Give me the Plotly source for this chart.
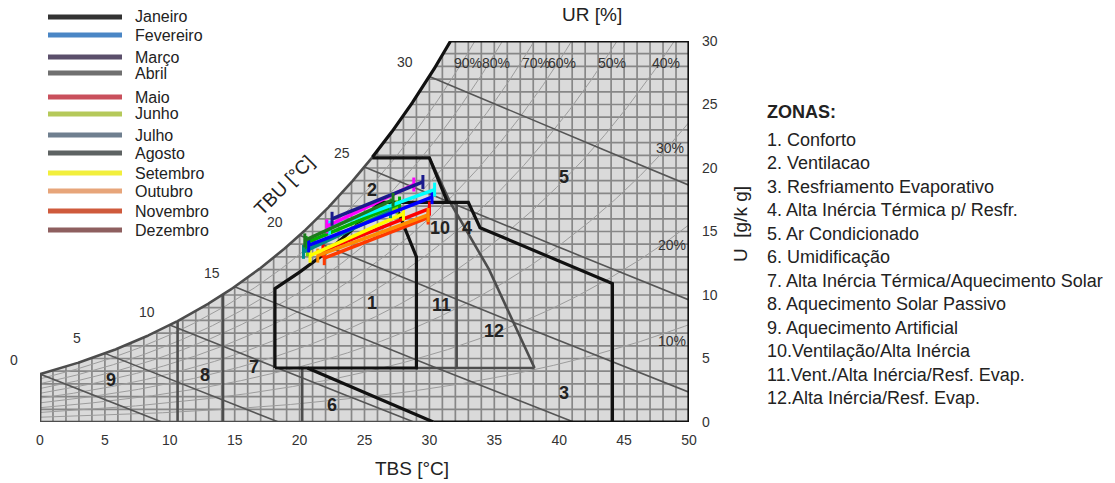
import numpy as np
import plotly.graph_objects as go

# ---------------- psychrometric base table (sea level) ----------------
P_ATM = 101.325
tbs_table = list(range(0, 51))
psat_kpa = [0.6112, 0.6571, 0.7060, 0.7581, 0.8135, 0.8726, 0.9354, 1.0021, 1.0730, 1.1482,
            1.2282, 1.3129, 1.4028, 1.4981, 1.5990, 1.7058, 1.8188, 1.9384, 2.0647, 2.1983,
            2.3393, 2.4882, 2.6453, 2.8111, 2.9858, 3.1699, 3.3639, 3.5681, 3.7831, 4.0092,
            4.2470, 4.4969, 4.7596, 5.0354, 5.3251, 5.6290, 5.9479, 6.2823, 6.6328, 6.9999,
            7.3844, 7.7867, 8.2077, 8.6481, 9.1083, 9.5878, 10.0900, 10.6130, 11.1590, 11.7290,
            12.3440]
rh_levels = [10, 20, 30, 40, 50, 60, 70, 80, 90]
twb_levels = [0, 5, 10, 15, 20, 25, 30]

# ---------------- monthly data (TBS min/max, U min/max) ----------------
months = ["Janeiro", "Fevereiro", "Março", "Abril", "Maio", "Junho", "Julho",
          "Agosto", "Setembro", "Outubro", "Novembro", "Dezembro"]
legend_colors = ["#333333", "#4a86c5", "#5b4f6b", "#707070", "#c9505c", "#b5c95a",
                 "#6f7f8f", "#5e6363", "#f2ef3c", "#e7a57a", "#cf5a3c", "#8e5f5f"]
line_colors = ["#ff0000", "#ff3a00", "#ff8c00", "#ffff00", "#7fd800", "#00b000",
               "#008b8b", "#0000ff", "#00ffff", "#ff00ff", "#1a1a8c", "#1d7a1d"]
tbs_min = [21.8, 21.9, 21.4, 20.8, 20.6, 20.5, 20.3, 20.7, 22.3, 22.1, 22.5, 20.4]
tbs_max = [30.0, 29.9, 29.9, 28.0, 27.5, 27.7, 27.0, 30.2, 30.4, 28.8, 29.5, 27.2]
u_min = [13.5, 12.9, 13.1, 13.1, 13.6, 14.1, 13.4, 13.9, 15.3, 15.4, 16.0, 14.3]
u_max = [16.8, 16.1, 16.3, 16.4, 16.9, 17.2, 16.6, 17.7, 18.3, 18.7, 18.9, 17.5]

# ---------------- zone boundaries ----------------
comfort_t = [18.1, 18.1, 20.0, 22.0, 24.0, 26.2, 27.3, 29.0, 29.0, 18.1]
comfort_u = [4.25, 10.5, 11.8, 13.3, 15.1, 17.3, 17.3, 13.0, 4.25, 4.25]
vent_t = [25.6, 30.0, 31.4, 33.0, 33.9, 44.1, 44.1]
vent_u = [20.8, 20.8, 17.3, 17.3, 15.3, 10.9, 0.0]
vent_top_t = [27.3, 31.4]
vent_top_u = [17.3, 17.3]
humid_t = [20.6, 30.3]
humid_u = [4.25, 0.0]
tri_t = [30.0, 31.6, 34.6, 38.1]
tri_u = [20.8, 17.3, 12.0, 4.25]
tri_base_t = [29.0, 38.1]
tri_base_u = [4.25, 4.25]
split_t = [32.1, 32.1]
split_u = [4.25, 17.3]
heat_split_t = [10.6, 14.1]
zone6_split_t = [20.2, 20.2]
zone6_split_u = [0.0, 4.25]
sat_black_from = 25.6
bottom_black_from = 30.3

zone_labels = ["1", "2", "3", "4", "5", "6", "7", "8", "9", "10", "11", "12"]
zone_label_t = [25.6, 25.6, 40.4, 32.9, 40.4, 22.5, 16.5, 12.7, 5.5, 30.8, 30.9, 35.0]
zone_label_u = [9.4, 18.3, 2.3, 15.3, 19.3, 1.35, 4.3, 3.7, 3.3, 15.3, 9.2, 7.2]

zone_names = ["1. Conforto", "2. Ventilacao", "3. Resfriamento Evaporativo",
              "4. Alta Inércia Térmica p/ Resfr.", "5. Ar Condicionado", "6. Umidificação",
              "7. Alta Inércia Térmica/Aquecimento Solar", "8. Aquecimento Solar Passivo",
              "9. Aquecimento Artificial", "10.Ventilação/Alta Inércia",
              "11.Vent./Alta Inércia/Resf. Evap.", "12.Alta Inércia/Resf. Evap."]

rh_label_text = ["90%", "80%", "70%", "60%", "50%", "40%", "30%", "20%", "10%"]
rh_label_t = [33.0, 35.1, 38.2, 40.2, 44.1, 48.2, 48.5, 48.7, 48.7]
rh_label_u = [28.3, 28.3, 28.3, 28.3, 28.3, 28.3, 21.6, 13.9, 6.4]
twb_label_text = ["0", "5", "10", "15", "20", "25", "30"]
twb_label_px = [14, 77, 147, 212, 275, 342, 405]
twb_label_py = [360, 338, 312, 273, 222, 153, 62]

FONT = "Liberation Sans, Arial, sans-serif"


def psat(t):
    return np.exp(np.interp(t, tbs_table, np.log(psat_kpa)))


def w_of(t, rh=1.0):
    p = rh * psat(t)
    return 622.0 * p / (P_ATM - p)


T_fine = np.linspace(0, 50, 1001)
w_sat_fine = w_of(T_fine)
T_top = float(np.interp(30.0, w_sat_fine, T_fine))


def t_sat_of_w(w):
    return float(np.interp(w, w_sat_fine, T_fine))


T_s = np.append(T_fine[T_fine < T_top], T_top)
W_s = w_of(T_s)
W_s[-1] = 30.0

fig = go.Figure()

# grey chart region
fig.add_trace(go.Scatter(
    x=[0, 50, 50] + list(T_s[::-1]) + [0],
    y=[0, 0, 30] + list(W_s[::-1]) + [0],
    fill="toself", fillcolor="#dadada", mode="lines", line=dict(width=0),
    hoverinfo="skip", showlegend=False))

# 1x1 grid clipped to the region
gx, gy = [], []
for t in range(1, 50):
    gx += [t, t, None]
    gy += [0, min(float(w_of(t)), 30.0), None]
for w in range(1, 30):
    left = 0.0 if w <= w_of(0) else t_sat_of_w(w)
    gx += [left, 50, None]
    gy += [w, w, None]
fig.add_trace(go.Scatter(x=gx, y=gy, mode="lines", line=dict(color="#878787", width=1.7),
                         hoverinfo="skip", showlegend=False))

# relative humidity curves
for rh in rh_levels:
    w = w_of(T_fine, rh / 100.0)
    m = w <= 30
    tx = list(T_fine[m])
    wy = list(w[m])
    if not m.all():
        tx.append(float(np.interp(30.0, w, T_fine)))
        wy.append(30.0)
    fig.add_trace(go.Scatter(x=tx, y=wy, mode="lines", line=dict(color="#9c9c9c", width=1),
                             hoverinfo="skip", showlegend=False))

# wet-bulb lines
for twb in twb_levels:
    ws = float(w_of(twb)) / 1000.0
    t_end = min(twb + (2501 - 2.326 * twb) * ws / 1.006, 50.0)
    tt = np.linspace(twb, t_end, 30)
    ww = ((2501 - 2.326 * twb) * ws - 1.006 * (tt - twb)) / (2501 + 1.86 * tt - 4.186 * twb) * 1000
    fig.add_trace(go.Scatter(x=tt, y=np.maximum(ww, 0), mode="lines",
                             line=dict(color="#555555", width=1.6),
                             hoverinfo="skip", showlegend=False))

GREY = dict(color="#4d4d4d", width=2.6)
BLACK = dict(color="#111111", width=3.2)


def seg(x, y, style):
    fig.add_trace(go.Scatter(x=x, y=y, mode="lines", line=style,
                             hoverinfo="skip", showlegend=False))


# outer lower boundary (grey)
m_low = T_s <= sat_black_from
seg([0, 0] + list(T_s[m_low]), [0, float(w_of(0))] + list(W_s[m_low]), GREY)
seg([0, bottom_black_from], [0, 0], GREY)
# grey zone dividers
for t in heat_split_t:
    seg([t, t], [0, float(w_of(t))], GREY)
seg(zone6_split_t, zone6_split_u, GREY)
seg(split_t, split_u, GREY)
seg(tri_base_t, tri_base_u, GREY)
seg(tri_t, tri_u, GREY)

# black boundaries
m_up = T_s >= sat_black_from
seg(list(T_s[m_up]) + [50, 50, bottom_black_from], list(W_s[m_up]) + [30, 0, 0], BLACK)
seg(comfort_t, comfort_u, BLACK)
seg(vent_t, vent_u, BLACK)
seg(vent_top_t, vent_top_u, BLACK)
seg(humid_t, humid_u, BLACK)

# monthly lines
for i, name in enumerate(months):
    fig.add_trace(go.Scatter(
        x=[tbs_min[i], tbs_max[i]], y=[u_min[i], u_max[i]], mode="lines+markers",
        line=dict(color=line_colors[i], width=3.5),
        marker=dict(symbol="line-ns", size=10, line=dict(color=line_colors[i], width=3)),
        name=name, showlegend=False))

annotations = []
for txt, t, u in zip(zone_labels, zone_label_t, zone_label_u):
    annotations.append(dict(x=t, y=u, xref="x", yref="y", text=f"<b>{txt}</b>", showarrow=False,
                            xanchor="center", yanchor="middle",
                            font=dict(family=FONT, size=18, color="#222222")))
for txt, t, u in zip(rh_label_text, rh_label_t, rh_label_u):
    annotations.append(dict(x=t, y=u, xref="x", yref="y", text=txt, showarrow=False,
                            xanchor="center", yanchor="middle",
                            font=dict(family=FONT, size=14, color="#333333")))

# pixel helpers for layout items outside the plot area
L, R, T_, B = 40, 689, 41, 422


def px(xp):
    return (xp - L) / (R - L)


def py(yp):
    return (B - yp) / (B - T_)


def text_at(xp, yp, txt, size, angle=0, anchor="center", color="#222"):
    annotations.append(dict(x=px(xp), y=py(yp), xref="paper", yref="paper", text=txt,
                            xanchor=anchor, yanchor="middle", textangle=angle, showarrow=False,
                            font=dict(family=FONT, size=size, color=color)))


for txt, xp, yp in zip(twb_label_text, twb_label_px, twb_label_py):
    text_at(xp, yp, txt, 14, color="#333333")

text_at(412, 468, "TBS [°C]", 19)
text_at(592, 15, "UR [%]", 19)
text_at(284, 186, "TBU [°C]", 19, angle=-45)
text_at(740, 224, "U  [g/k g]", 19, angle=-90)

# custom legend
legend_y = [17, 35, 57, 73, 97, 114, 135, 153, 173, 191, 211, 230]
shapes = []
for name, col, yy in zip(months, legend_colors, legend_y):
    shapes.append(dict(type="line", xref="paper", yref="paper", x0=px(48), x1=px(122),
                       y0=py(yy), y1=py(yy), line=dict(color=col, width=5)))
    text_at(133, yy, name, 16, anchor="left")

# zone list
text_at(765, 112, "<b>ZONAS:</b>", 18, anchor="left")
for k, zn in enumerate(zone_names):
    text_at(765, 140 + k * 23.45, zn, 18, anchor="left")

fig.update_layout(
    width=1115, height=483, margin=dict(l=L, r=1115 - R, t=T_, b=483 - B),
    paper_bgcolor="white", plot_bgcolor="white",
    annotations=annotations, shapes=shapes,
    font=dict(family=FONT, color="#333"),
    xaxis=dict(range=[0, 50], tickvals=list(range(0, 51, 5)), showgrid=False, zeroline=False,
               showline=False, ticks="", tickfont=dict(size=14, color="#333"),
               ticklabelstandoff=8, fixedrange=True),
    yaxis=dict(range=[0, 30], tickvals=list(range(0, 31, 5)), side="right", showgrid=False,
               zeroline=False, showline=False, ticks="", tickfont=dict(size=14, color="#333"),
               ticklabelstandoff=12, fixedrange=True),
)

fig.write_html("out.html")
